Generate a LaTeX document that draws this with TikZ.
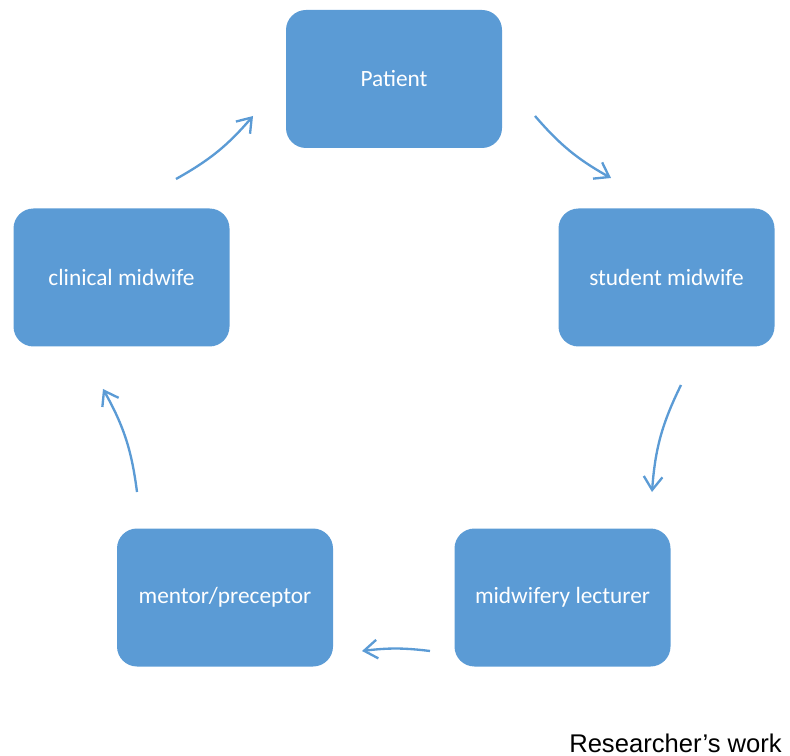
\documentclass[tikz,border=0pt]{standalone}
\usepackage{fontspec}
\setmainfont{Carlito}
\newfontfamily\arialfont{Liberation Sans}
\usetikzlibrary{arrows.meta}
\definecolor{boxblue}{RGB}{91,155,213}
\tikzset{
  cyclebox/.style={draw=none,fill=boxblue,rounded corners=15pt,minimum width=162pt,minimum height=103.5pt,
    text=white,font=\fontsize{17.5}{21}\selectfont,inner sep=0pt},
  cyclearrow/.style={draw=boxblue,line width=1.75pt,-{Straight Barb[length=10pt,width=14pt,line width=1.75pt]}}
}
\begin{document}
\begin{tikzpicture}[x=0.75pt,y=0.75pt,yscale=-1,xscale=1]
\useasboundingbox (0,0) rectangle (790,756);

% Boxes
\node[cyclebox] (patient) at (394,79) {Patient};
\node[cyclebox] (student) at (666.5,277.5) {student midwife};
\node[cyclebox] (lecturer) at (562.5,597.5) {midwifery lecturer};
\node[cyclebox] (mentor) at (225,597.5) {mentor/preceptor};
\node[cyclebox] (clinical) at (121.5,277.5) {clinical midwife};

% Arrow ends
\coordinate (a1) at (176,179);
\coordinate (b1) at (253,116);
\coordinate (a2) at (535,116);
\coordinate (b2) at (611,178);
\coordinate (a3) at (681,385);
\coordinate (b3) at (652,492);
\coordinate (a4) at (430,651);
\coordinate (b4) at (362,651);
\coordinate (a5) at (137,492);
\coordinate (b5) at (103,389);

% Arrows
\draw[cyclearrow] (a1) to[bend left=10] (b1);
\draw[cyclearrow] (a2) to[bend left=10] (b2);
\draw[cyclearrow] (a3) to[bend left=11] (b3);
\draw[cyclearrow] (a4) to[bend left=7] (b4);
\draw[cyclearrow] (a5) to[bend left=11] (b5);

% Text Node
\node[anchor=base west,inner sep=0pt,font=\arialfont\fontsize{19.2}{23}\selectfont] (source) at (569,752) {Researcher’s work};
\end{tikzpicture}
\end{document}
